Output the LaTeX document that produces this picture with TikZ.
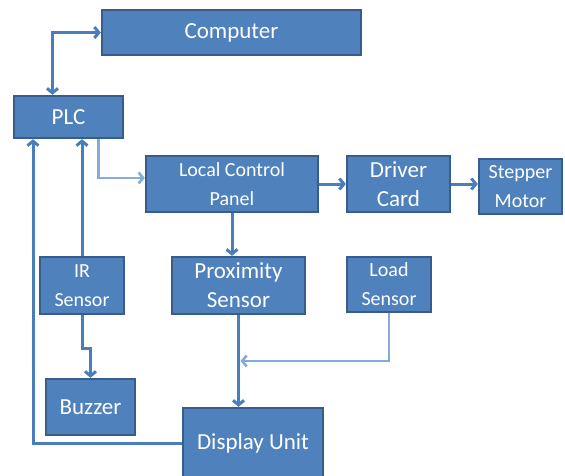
\documentclass[tikz,border=0pt]{standalone}
\usepackage{fontspec}
\setmainfont{Carlito}
\usetikzlibrary{calc,arrows.meta}
\definecolor{boxfill}{HTML}{4F81BD}
\definecolor{boxedge}{HTML}{385D8A}
\definecolor{wire}{HTML}{4A7EBB}
\definecolor{wirelight}{HTML}{85ABDB}
\tikzset {>={Straight Barb[length=4.5pt,width=11pt]}}
\tikzset{
  block/.style={draw=boxedge,fill=boxfill,line width=2.4pt,text=white,
    inner sep=0pt,align=center},
  link/.style={draw=wire,line width=3pt},
  lightlink/.style={draw=wirelight,line width=2.6pt}
}

\begin{document}
\begin{tikzpicture}[x=1pt,y=-1pt]
\useasboundingbox (0,0) rectangle (565,476);
% name/x/y/width/height/font size/label
\foreach \name/\x/\y/\w/\h/\fs/\txt in {
  computer/231.5/32.5/259/45/23/Computer,
  plc/68.5/117/109/42/23/PLC,
  panel/232/184/172/56/20/{Local Control\\Panel},
  driver/398.5/184/103/56/23/{Driver\\Card},
  stepper/520.5/186.5/83/55/20/{Stepper\\Motor},
  ir/82/285.5/84/57/20/{IR\\Sensor},
  prox/238.5/285.5/133/57/23/{Proximity\\Sensor},
  load/389/284.5/84/55/20/{Load\\Sensor},
  buzzer/90.5/407/89/56/23/Buzzer,
  display/253/443/140/70/23/{Display Unit}} {
  \node[block,minimum width=\w,minimum height=\h,
    font=\fontsize{\fs}{29}\selectfont] (\name) at (\x,\y) {\txt};
}

\draw[link,<->] ([xshift=-16]plc.north) |- (computer.west);
\draw[link,->] (display.west) -| ([xshift=-35.5]plc.south);
\draw[link,->] (ir.north) -- (ir.north |- plc.south);
\draw[lightlink,->] ([xshift=30]plc.south) |- ([yshift=6]panel.west);
\draw[link,->] (panel) -- (driver);
\draw[link,->] (driver.east) -- (driver.east -| stepper.west);
\draw[link,->] (panel.south) -- (panel.south |- prox.north);
\draw[link,->] (prox.south) -- (prox.south |- display.north);
\coordinate (merge) at ($(prox.south)!.5!(prox.south |- display.north)$);
\draw[lightlink,->] (load.south) |- ([xshift=2]merge);
\draw[link,->] (ir.south) -- ++(0,33) -| (buzzer.north);

\end{tikzpicture}
\end{document}
